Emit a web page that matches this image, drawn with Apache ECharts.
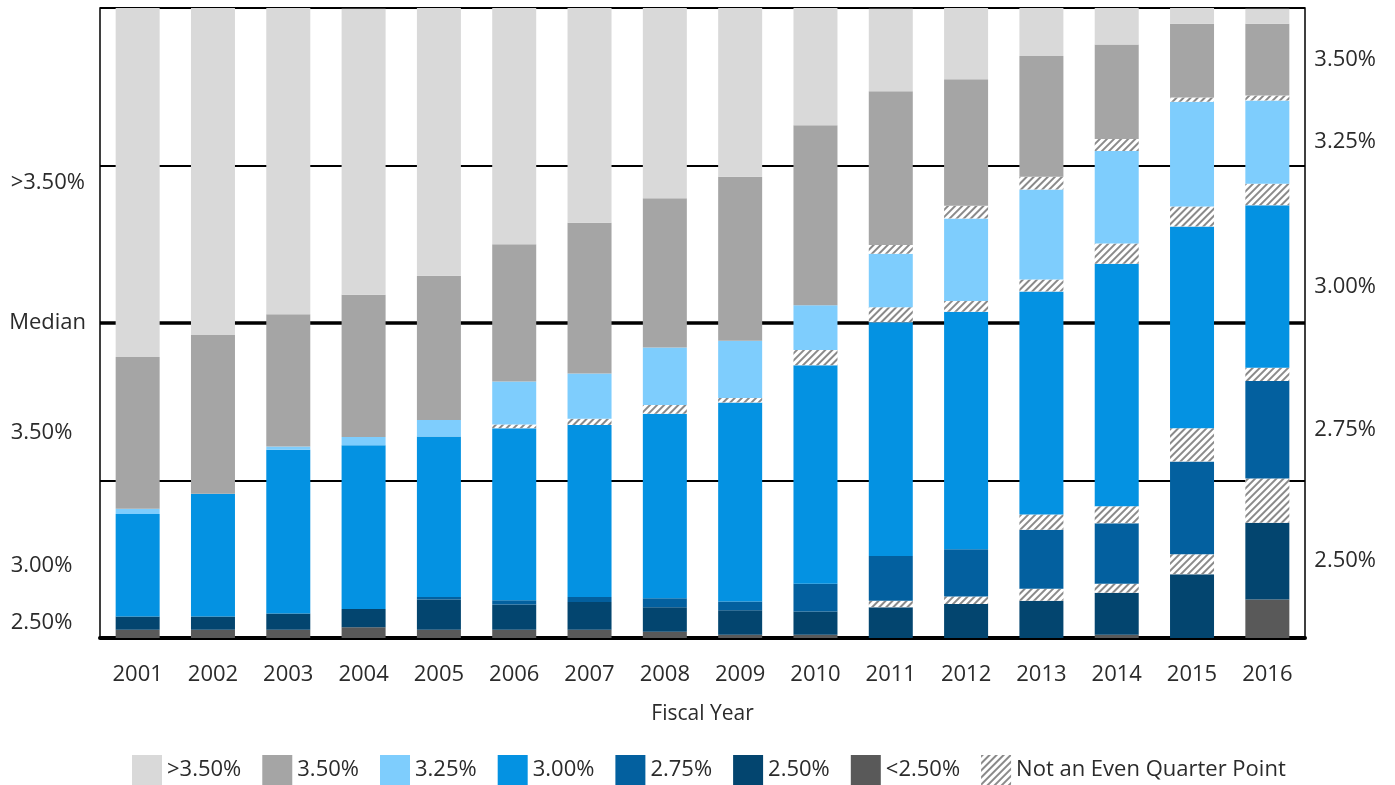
<!DOCTYPE html>
<html>
<head>
<meta charset="utf-8">
<script src="https://cdn.jsdelivr.net/npm/echarts@6/dist/echarts.min.js"></script>
<style>
  html, body { margin: 0; padding: 0; background: #fff; }
  #chart { width: 1395px; height: 785px; }
</style>
</head>
<body>
<div id="chart"></div>
<script>
// fiscal years on the x axis
const years = ['2001', '2002', '2003', '2004', '2005', '2006', '2007', '2008',
  '2009', '2010', '2011', '2012', '2013', '2014', '2015', '2016']

// share of plans (%) at each assumed rate, bottom of the stack first
const below250 = [1.3, 1.3, 1.3, 1.7, 1.3, 1.3, 1.3, 1.0, 0.5, 0.5, 0, 0, 0, 0.5, 0, 6.1]
const at250 = [2.1, 2.1, 2.6, 2.9, 4.8, 4.0, 4.4, 3.9, 3.9, 3.7, 4.9, 5.4, 5.9, 6.7, 10.1, 12.2]
const odd250to275 = [0, 0, 0, 0, 0, 0, 0, 0, 0, 0, 1.0, 1.2, 1.9, 1.4, 3.2, 7.0]
const at275 = [0, 0, 0, 0, 0.4, 0.7, 0.8, 1.4, 1.4, 4.4, 7.1, 7.5, 9.4, 9.6, 14.7, 15.5]
const odd275to300 = [0, 0, 0, 0, 0, 0, 0, 0, 0, 0, 0, 0, 2.4, 2.7, 5.3, 2.1]
const at300 = [16.3, 19.5, 26.0, 26.0, 25.5, 27.3, 27.3, 29.3, 31.6, 34.7, 37.1, 37.7, 35.4, 38.5, 32.0, 25.8]
const odd300to325 = [0, 0, 0, 0, 0, 0.6, 1.0, 1.4, 0.7, 2.4, 2.4, 1.7, 1.9, 3.2, 3.2, 3.4]
const at325 = [0.8, 0, 0.5, 1.3, 2.6, 6.8, 7.2, 9.1, 9.1, 7.1, 8.5, 13.1, 14.3, 14.7, 16.6, 13.2]
const odd325to350 = [0, 0, 0, 0, 0, 0, 0, 0, 0, 0, 1.4, 2.0, 2.0, 1.9, 0.7, 0.8]
const at350 = [24.1, 25.2, 21.0, 22.6, 22.9, 21.8, 23.9, 23.7, 26.0, 28.6, 24.4, 20.1, 19.2, 15.0, 11.7, 11.4]
const above350 = [55.4, 52.0, 48.6, 45.4, 42.5, 37.6, 34.2, 30.2, 26.8, 18.7, 13.1, 11.3, 7.6, 5.8, 2.6, 2.4]

const legendNames = ['>3.50%', '3.50%', '3.25%', '3.00%', '2.75%', '2.50%', '<2.50%', 'Not an Even Quarter Point']
const leftLabels = ['>3.50%', '3.50%', '3.00%', '2.50%'] // tagged on the 2001 bar
const rightLabels = ['3.50%', '3.25%', '3.00%', '2.75%', '2.50%'] // tagged on the 2016 bar

const HATCH = 'Not an Even Quarter Point'
const FONT = '"Open Sans", "Noto Sans", sans-serif'
const TEXT = '#2b2b2b'

const layers = [
  { name: '<2.50%', data: below250, color: '#595959' },
  { name: '2.50%', data: at250, color: '#03456f' },
  { name: HATCH, data: odd250to275 },
  { name: '2.75%', data: at275, color: '#03609f' },
  { name: HATCH, data: odd275to300 },
  { name: '3.00%', data: at300, color: '#0492e2' },
  { name: HATCH, data: odd300to325 },
  { name: '3.25%', data: at325, color: '#7ecdfd' },
  { name: HATCH, data: odd325to350 },
  { name: '3.50%', data: at350, color: '#a5a5a5' },
  { name: '>3.50%', data: above350, color: '#d9d9d9' }
]

const last = years.length - 1

function buildData(layer) {
  return layer.data.map((v, i) => {
    if (i === 0 && leftLabels.includes(layer.name)) {
      return {
        value: v,
        label: { show: true, position: 'left', distance: 105, align: 'left', formatter: layer.name }
      }
    }
    if (i === last && rightLabels.includes(layer.name)) {
      return {
        value: v,
        label: { show: true, position: 'right', distance: 25, align: 'left', formatter: layer.name }
      }
    }
    return v
  })
}

const series = layers.map((layer, idx) => {
  const s = {
    name: layer.name,
    type: 'bar',
    stack: 'total',
    barWidth: 44,
    data: buildData(layer),
    label: { fontSize: 22, color: TEXT, fontFamily: FONT },
    animation: false
  }
  if (layer.name === HATCH) {
    s.itemStyle = {
      color: '#ffffff',
      decal: {
        symbol: 'rect',
        symbolSize: 1,
        color: '#8a8a8a',
        dashArrayX: [1, 0],
        dashArrayY: [1.5, 3],
        rotation: -Math.PI / 4
      }
    }
  } else {
    s.itemStyle = { color: layer.color }
  }
  if (idx === 0) {
    // thick median line, drawn behind the bars
    s.markLine = {
      silent: true,
      symbol: 'none',
      z: 1,
      lineStyle: { color: '#000', width: 3.5, type: 'solid' },
      label: { show: true, position: 'start', formatter: 'Median', distance: 14, fontSize: 22, color: TEXT, fontFamily: FONT },
      data: [{ yAxis: 50 }]
    }
  }
  return s
})

const myChart = echarts.init(document.getElementById('chart'))
myChart.setOption({
  animation: false,
  textStyle: { fontFamily: FONT },
  grid: {
    left: 100,
    right: 90,
    top: 8,
    bottom: 147,
    show: true,
    borderColor: '#000',
    borderWidth: 1.5
  },
  legend: {
    data: legendNames,
    top: 750,
    left: 127,
    icon: 'rect',
    itemWidth: 30,
    itemHeight: 30,
    itemGap: 21,
    textStyle: { fontSize: 22, color: TEXT, fontFamily: FONT }
  },
  xAxis: {
    type: 'category',
    data: years,
    name: 'Fiscal Year',
    nameLocation: 'middle',
    nameGap: 66,
    nameTextStyle: { fontSize: 21, color: TEXT, fontFamily: FONT },
    axisTick: { show: false },
    axisLine: { lineStyle: { color: '#000', width: 4 } },
    axisLabel: { fontSize: 22, color: TEXT, margin: 26, fontFamily: FONT }
  },
  yAxis: {
    type: 'value',
    min: 0,
    max: 100,
    interval: 25,
    axisLabel: { show: false },
    axisLine: { show: false },
    axisTick: { show: false },
    splitLine: { lineStyle: { color: '#000', width: 2 } }
  },
  series: series
})
</script>
</body>
</html>
